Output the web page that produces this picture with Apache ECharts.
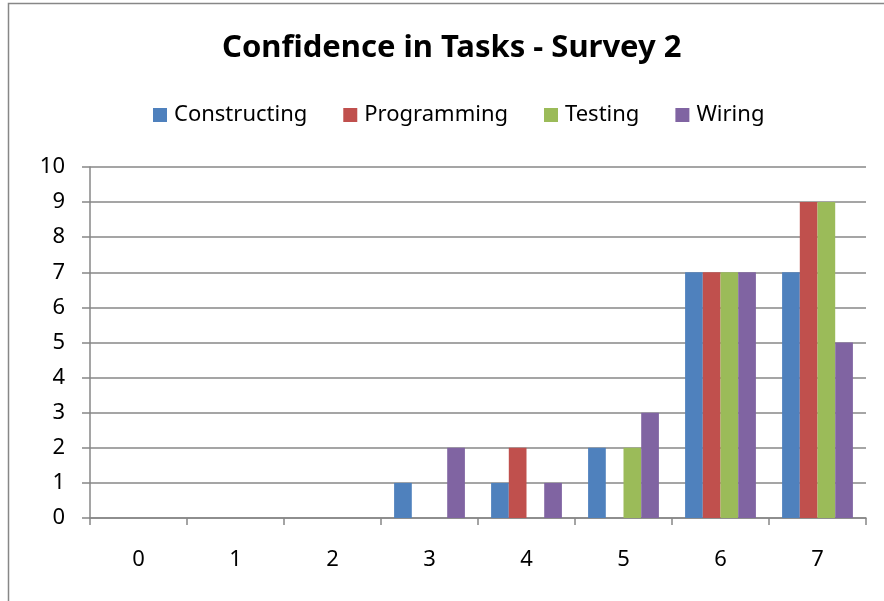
<!DOCTYPE html>
<html>
<head>
<meta charset="utf-8">
<style>
  html, body { margin: 0; padding: 0; background: #fff; }
  #chart { width: 884px; height: 601px; }
</style>
<script src="https://cdn.jsdelivr.net/npm/echarts@6/dist/echarts.min.js"></script>
</head>
<body>
<div id="chart"></div>
<script>
// survey answers 0..7 and how many people picked each
var categories = ['0', '1', '2', '3', '4', '5', '6', '7']
var constructing = [0, 0, 0, 1, 1, 2, 7, 7]
var programming = [0, 0, 0, 0, 2, 0, 7, 9]
var testing = [0, 0, 0, 0, 0, 2, 7, 9]
var wiring = [0, 0, 0, 2, 1, 3, 7, 5]

var font = '"Noto Sans", sans-serif'
var gray = '#878787'

function bar(name, data, color) {
  return {
    name: name,
    type: 'bar',
    data: data,
    barGap: '0%',
    barCategoryGap: '27%',
    itemStyle: { color: color }
  }
}

var chart = echarts.init(document.getElementById('chart'))
chart.setOption({
  animation: false,
  textStyle: { fontFamily: font },
  graphic: [{
    type: 'rect',
    shape: { x: 8.5, y: 3.5, width: 1000, height: 1000 },
    style: { fill: 'none', stroke: gray, lineWidth: 1.5 }
  }],
  title: {
    text: 'Confidence in Tasks - Survey 2',
    left: 222,
    top: 33,
    padding: 0,
    textStyle: { fontFamily: font, fontSize: 31, fontWeight: 'bold', color: '#000' }
  },
  legend: {
    top: 99,
    left: 148,
    icon: 'rect',
    itemWidth: 14,
    itemHeight: 14,
    itemGap: 36,
    textStyle: { fontFamily: font, fontSize: 22, color: '#000', padding: [0, 0, 0, 2] }
  },
  grid: { left: 90, right: 18, top: 167, bottom: 83 },
  xAxis: {
    type: 'category',
    data: categories,
    axisLine: { lineStyle: { color: gray, width: 1.5 } },
    axisTick: { show: true, length: 7, lineStyle: { color: gray, width: 1.5 } },
    axisLabel: { fontSize: 22, color: '#000', margin: 31 }
  },
  yAxis: {
    type: 'value',
    min: 0,
    max: 10,
    interval: 1,
    axisLine: { show: true, lineStyle: { color: gray, width: 1.5 } },
    axisTick: { show: true, length: 8, lineStyle: { color: gray, width: 1.5 } },
    axisLabel: { fontSize: 22, color: '#000', margin: 25 },
    splitLine: { lineStyle: { color: gray, width: 1.5 } }
  },
  series: [
    bar('Constructing', constructing, '#4F81BD'),
    bar('Programming', programming, '#C0504D'),
    bar('Testing', testing, '#9BBB59'),
    bar('Wiring', wiring, '#8064A2')
  ]
})
</script>
</body>
</html>
